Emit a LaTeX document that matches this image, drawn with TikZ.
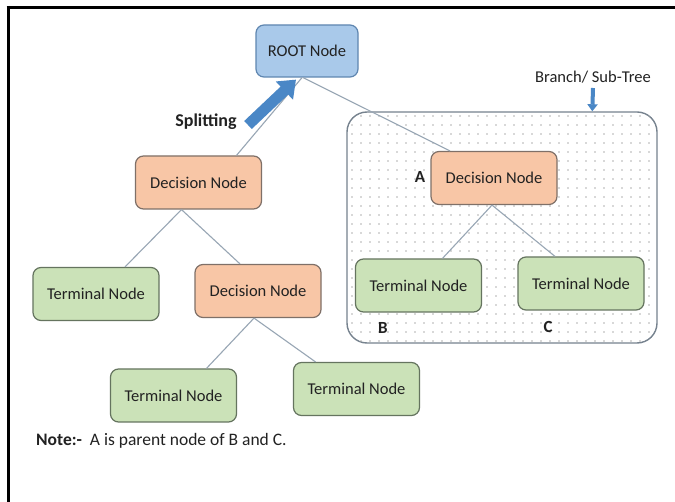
\documentclass[tikz,border=0pt]{standalone}
\usepackage{fontspec}
\setmainfont{Carlito}
\usetikzlibrary{arrows.meta,calc}
\definecolor{rootfill}{HTML}{A9C9EA}
\definecolor{rootdraw}{HTML}{5F86B0}
\definecolor{decfill}{HTML}{F8C6A6}
\definecolor{decdraw}{HTML}{7F7068}
\definecolor{termfill}{HTML}{CBE2B8}
\definecolor{termdraw}{HTML}{65745F}
\definecolor{linkcol}{HTML}{98A6B4}
\definecolor{arrowblue}{HTML}{4A87C6}
\definecolor{subdraw}{HTML}{76828E}
\definecolor{txt}{HTML}{222222}
\begin{document}
\begin{tikzpicture}[x=1pt,y=-1pt,
  nodebox/.style={draw, rounded corners=8pt, line width=1.2pt, minimum width=126pt,
    minimum height=53pt, inner sep=0pt, font=\fontsize{16.5}{19}\selectfont, text=txt},
  rootbox/.style={nodebox, fill=rootfill, draw=rootdraw, minimum width=102pt, minimum height=52pt},
  decbox/.style={nodebox, fill=decfill, draw=decdraw},
  termbox/.style={nodebox, fill=termfill, draw=termdraw},
  link/.style={draw=linkcol, line width=1.1pt},
  letter/.style={font=\fontsize{17}{20}\selectfont\bfseries, text=txt, inner sep=0pt},
  plain/.style={font=\fontsize{16.5}{19}\selectfont, text=txt, inner sep=0pt},
  subbox/.style={draw=subdraw, fill=white, line width=1.4pt, rounded corners=20pt,
    minimum width=310pt, minimum height=231pt, inner sep=0pt}]
\useasboundingbox (0,0) rectangle (675,502);
\fill[white] (0,0) rectangle (675,502);
% frame
\draw[line width=3pt] (6.5,7.5) -- (675,7.5);
\draw[line width=3pt] (8,6) -- (8,502);

% sub-tree container
\node[subbox] (sub) at (502,227.5) {};
\begin{scope}
  \clip[rounded corners=20pt] (347,112) rectangle (657,343);
  \foreach \xx in {352,361,...,656}
    \foreach \yy in {116,125,...,342}
      \fill[gray!60] (\xx,\yy) circle (0.8pt);
\end{scope}

% nodes
\node[rootbox] (root) at (307,51) {ROOT Node};
\node[decbox]  (dec1) at (198.5,182.5) {Decision Node};
\node[termbox] (term1) at (96,294) {Terminal Node};
\node[decbox]  (dec2) at (258,291) {Decision Node};
\node[termbox] (term3) at (173.5,395.5) {Terminal Node};
\node[termbox] (term4) at (356.5,389) {Terminal Node};
\node[decbox]  (decA) at (494,178) {Decision Node};
\node[termbox] (termB) at (418.5,285.5) {Terminal Node};
\node[termbox] (termC) at (581,283.5) {Terminal Node};

% connectors
\draw[link] ([xshift=-5pt]root.south) -- ([xshift=38pt]dec1.north);
\draw[link] ([xshift=-4pt]root.south) -- ([xshift=-44pt]decA.north);
\draw[link] ([xshift=-17pt]dec1.south) -- ([xshift=29pt]term1.north);
\draw[link] ([xshift=-17pt]dec1.south) -- ([xshift=-18pt]dec2.north);
\draw[link] ([xshift=-4pt]dec2.south) -- ([xshift=33pt]term3.north);
\draw[link] ([xshift=-4pt]dec2.south) -- ([xshift=-41pt]term4.north);
\draw[link] ([xshift=-2pt]decA.south) -- ([xshift=24pt]termB.north);
\draw[link] ([xshift=-2pt]decA.south) -- ([xshift=-26pt]termC.north);

% splitting arrow
\coordinate (spt) at (248,125);
\coordinate (sph) at ([xshift=-11pt,yshift=-2pt]root.south);
\draw[arrowblue, line width=11pt, -{Triangle[width=24pt,length=16pt]}] (spt) -- (sph);
\node[font=\fontsize{18}{21}\selectfont\bfseries, text=txt, inner sep=0pt] (splitlbl) at (206,122) {Splitting};

% branch label and arrow
\node[plain] (branchlbl) at (593,77) {Branch/ Sub-Tree};
\coordinate (brt) at (593,88);
\coordinate (brh) at ($(sub.north west)+(246,0)$);
\draw[arrowblue, line width=4pt, -{Triangle[width=10pt,length=7pt]}] (brt) -- (brh);

% letters
\node[letter] (lA) at (420,177) {A};
\node[letter] (lB) at (383,328) {B};
\node[letter] (lC) at (548,327) {C};

% note
\node[font=\fontsize{17.5}{20}\selectfont, text=txt, inner sep=0pt, anchor=west] (note) at (36,441) {{\bfseries Note:-}\hspace{8pt}A is parent node of B and C.};
\end{tikzpicture}
\end{document}
